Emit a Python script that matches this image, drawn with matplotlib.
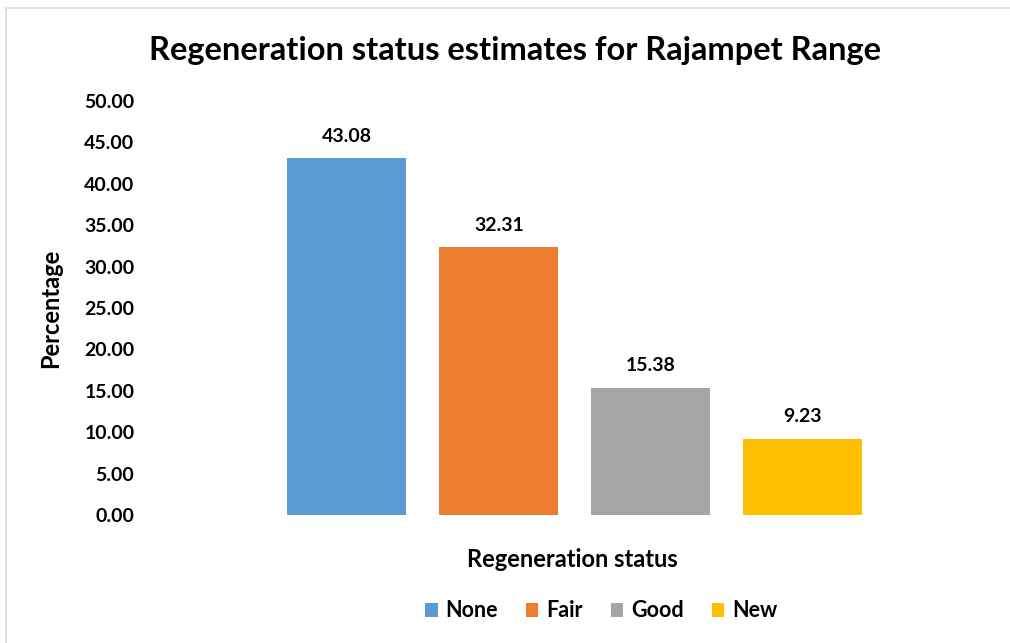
import matplotlib.pyplot as plt
from matplotlib.patches import Rectangle

# data
status = ['None', 'Fair', 'Good', 'New']
percent = [43.08, 32.31, 15.38, 9.23]
colors = ['#5B9BD5', '#ED7D31', '#A5A5A5', '#FFC000']

plt.rcParams['font.family'] = ['Lato', 'DejaVu Sans']
plt.rcParams['font.weight'] = 'bold'

fig = plt.figure(figsize=(10.10, 6.43), dpi=100)
ax = fig.add_axes([0.1386, 0.199, 0.8564, 0.644])

# light frame round the figure
fig.patches.append(Rectangle((0.006, -0.01), 1.0, 0.998, transform=fig.transFigure,
                             fill=False, edgecolor='#d9d9d9', linewidth=1.2))

for i in range(len(status)):
    ax.bar(i, percent[i], width=0.78, color=colors[i], label=status[i])
    ax.text(i, percent[i] + 1.6, '%.2f' % percent[i], ha='center', va='bottom',
            fontsize=14, fontweight='bold')

ax.set_xlim(-1.36, 4.33)
ax.set_ylim(0, 50)
ax.set_yticks([i * 5 for i in range(11)])
ax.set_yticklabels(['%.2f' % (i * 5) for i in range(11)], fontsize=14, fontweight='bold')
ax.set_xticks([])
ax.tick_params(axis='y', length=0, pad=4)
for s in ax.spines.values():
    s.set_visible(False)

ax.set_ylabel('Percentage', fontsize=17, fontweight='bold', labelpad=16)
ax.set_xlabel('Regeneration status', fontsize=17, fontweight='bold', labelpad=24)
fig.text(0.51, 0.922, 'Regeneration status estimates for Rajampet Range', ha='center',
         va='center', fontsize=23.5, fontweight='bold')

fig.legend(loc='center', bbox_to_anchor=(0.595, 0.05), ncol=4, frameon=False,
           fontsize=15.5, handlelength=0.6, handleheight=0.6, columnspacing=1.3,
           handletextpad=0.35)

plt.savefig('out.png', dpi=100)
